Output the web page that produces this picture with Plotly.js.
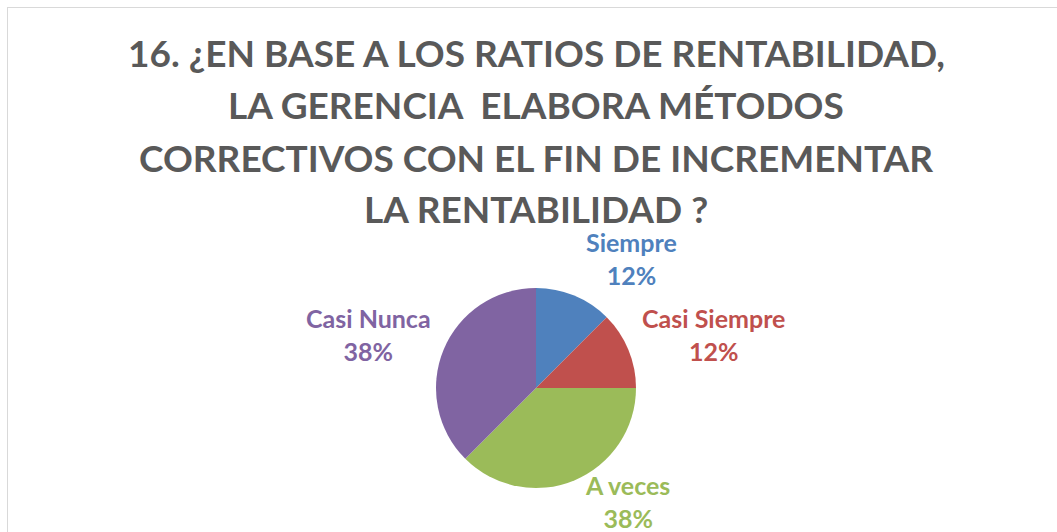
<!DOCTYPE html>
<html>
<head>
<meta charset="utf-8">
<script src="https://cdn.plot.ly/plotly-3.0.1.min.js"></script>
<style>
  html, body { margin: 0; padding: 0; background: #ffffff; overflow: hidden; }
  #chart { position: absolute; left: 0; top: 0; width: 1057px; height: 532px; }
  #frame { position: absolute; left: 7px; top: 7px; width: 1200px; height: 700px;
           border: 1px solid #d9d9d9; pointer-events: none; }
</style>
</head>
<body>
<div id="chart"></div>
<div id="frame"></div>
<script>
// ---- data ----
const categories = ["Siempre", "Casi Siempre", "A veces", "Casi Nunca"];
const values = [1, 1, 3, 3];
const percentLabels = ["12%", "12%", "38%", "38%"];
const titleLines = [
  "16. ¿EN BASE A LOS RATIOS DE RENTABILIDAD,",
  "LA GERENCIA  ELABORA MÉTODOS",
  "CORRECTIVOS CON EL FIN DE INCREMENTAR",
  "LA RENTABILIDAD ?"
];

// ---- styles / layout ----
const colors = ["#4F81BD", "#C0504D", "#9BBB59", "#8064A2"];
const W = 1057, H = 532;
const labelPos = [[631, 258], [713, 334], [627, 501], [368, 334]]; // label block centres (px)
const titleLineY = [52, 104, 157, 209]; // title line centres (px)
const FONT = "Lato, 'Open Sans', sans-serif";

const trace = {
  type: "pie",
  labels: categories,
  values: values,
  sort: false,
  direction: "clockwise",
  rotation: 0,
  marker: { colors: colors, line: { width: 0 } },
  textinfo: "none",
  hoverinfo: "label+percent",
  domain: { x: [436 / W, 636 / W], y: [1 - 488 / H, 1 - 288 / H] },
  showlegend: false
};

const annotations = categories.map((c, i) => ({
  xref: "paper", yref: "paper",
  x: labelPos[i][0] / W, y: 1 - labelPos[i][1] / H,
  xanchor: "center", yanchor: "middle",
  showarrow: false,
  text: "<b>" + c + "</b><br><b>" + percentLabels[i] + "</b>",
  font: { family: FONT, size: 25, color: colors[i] },
  align: "center"
}));

titleLines.forEach((t, i) => {
  annotations.push({
    xref: "paper", yref: "paper",
    x: 536 / W, y: 1 - titleLineY[i] / H,
    xanchor: "center", yanchor: "middle",
    showarrow: false,
    text: "<b>" + t.replace(/  /g, " &nbsp;") + "</b>",
    font: { family: FONT, size: 37, color: "#595959" },
    align: "center"
  });
});

const layout = {
  width: W, height: H,
  margin: { l: 0, r: 0, t: 0, b: 0 },
  paper_bgcolor: "#ffffff",
  annotations: annotations
};

Plotly.newPlot("chart", [trace], layout, { displayModeBar: false, staticPlot: true });
</script>
</body>
</html>
